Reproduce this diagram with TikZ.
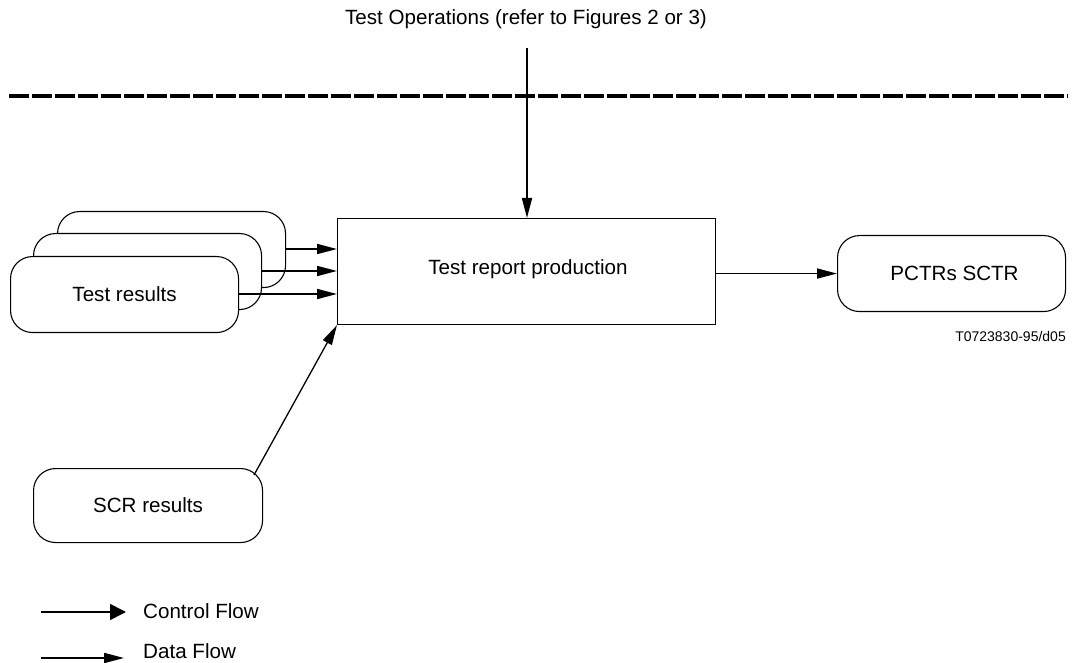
\documentclass[tikz,border=0pt]{standalone}
\usepackage{fontspec}
\setmainfont{Liberation Sans}
\usetikzlibrary{arrows.meta}
\begin{document}
\begin{tikzpicture}[x=1pt,y=-1pt,
  rbox/.style={draw,line width=1.1pt,fill=white,rounded corners=22pt,minimum width=228pt,minimum height=76pt,inner sep=0pt,anchor=north west,font=\fontsize{20.6}{24}\selectfont},
  mainbox/.style={draw,line width=1.1pt,fill=white,minimum width=378pt,minimum height=106pt,inner sep=0pt,anchor=north west},
  dataflow/.style={line width=1.7pt,-{Triangle[length=20pt,width=10pt]}},
  ctrlflow/.style={line width=1.6pt,-{Triangle[length=16pt,width=16pt]}},
  lbl/.style={font=\fontsize{20.6}{24}\selectfont,inner sep=0pt}]
\useasboundingbox (0,0) rectangle (1072,663);
% top text and dashed line
\node[lbl] (ops) at (526,19) {Test Operations (refer to Figures 2 or 3)};
\draw[line width=4pt,dash pattern=on 19.5pt off 3.5pt] (9,96) -- (1068,96);
% main box
\node[mainbox] (main) at (337,218) {};
\node[lbl] (mainlbl) at (528,269) {Test report production};
\coordinate (opsend) at (527,48);
\draw[dataflow] (opsend) -- (main.north -| opsend);
% stacked test results
\node[rbox] (tr3) at (57,211) {};
\node[rbox] (tr2) at (33,233) {};
\node[rbox] (tr1) at (10,256) {Test results};
\draw[dataflow] (tr3.east |- 0,249) -- (main.west |- 0,249);
\draw[dataflow] (tr2.east |- 0,271) -- (main.west |- 0,271);
\draw[dataflow] (tr1.east |- 0,294) -- (main.west |- 0,294);
% output
\node[rbox] (pctr) at (837,235) {\hspace*{6pt}PCTRs SCTR};
\draw[dataflow] (main.east |- pctr.west) -- (pctr.west);
\node[font=\fontsize{14}{16}\selectfont,inner sep=0pt,anchor=east] (code) at (1066,336) {T0723830-95/d05};
% SCR results
\node[rbox,minimum width=229pt,minimum height=74pt] (scr) at (33,468) {SCR results};
\coordinate (scrstart) at (254,475);
\draw[dataflow,line width=1.3pt] (scrstart) -- (main.south west);
% legend
\coordinate (c1) at (41,612);
\coordinate (c2) at (126,612);
\draw[ctrlflow] (c1) -- (c2);
\node[lbl,anchor=west] (cf) at (143,611) {Control Flow};
\coordinate (d1) at (41,658);
\coordinate (d2) at (124,658);
\draw[dataflow] (d1) -- (d2);
\node[lbl,anchor=west] (df) at (143,651) {Data Flow};
\end{tikzpicture}
\end{document}
